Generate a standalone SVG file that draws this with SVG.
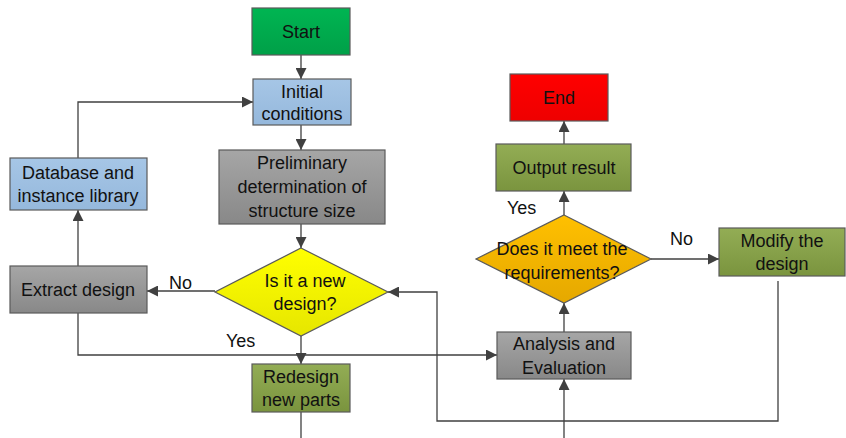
<svg xmlns="http://www.w3.org/2000/svg" width="846" height="438" viewBox="0 0 846 438">
  <style>
    .node text { font-family: "Liberation Sans", Arial, sans-serif; font-size: 18px; fill: #111; text-anchor: middle; }
    .box { stroke: #5a5a5a; stroke-width: 1.2; }
    .edge { fill: none; stroke: #404040; stroke-width: 1.3; }
    .lbl { font-family: "Liberation Sans", Arial, sans-serif; font-size: 18px; fill: #111; }
  </style>
  <defs>
    <linearGradient id="gGreen" x1="0" y1="0" x2="0" y2="1"><stop offset="0" stop-color="#00b552"/><stop offset="1" stop-color="#00a048"/></linearGradient>
    <linearGradient id="gBlue" x1="0" y1="0" x2="0" y2="1"><stop offset="0" stop-color="#a6c6e6"/><stop offset="1" stop-color="#95b8dc"/></linearGradient>
    <linearGradient id="gGray" x1="0" y1="0" x2="0" y2="1"><stop offset="0" stop-color="#a6a6a6"/><stop offset="1" stop-color="#888888"/></linearGradient>
    <linearGradient id="gYellow" x1="0" y1="0" x2="0" y2="1"><stop offset="0" stop-color="#ffff00"/><stop offset="1" stop-color="#e6e600"/></linearGradient>
    <linearGradient id="gOlive" x1="0" y1="0" x2="0" y2="1"><stop offset="0" stop-color="#93ad55"/><stop offset="1" stop-color="#7a943e"/></linearGradient>
    <linearGradient id="gRed" x1="0" y1="0" x2="0" y2="1"><stop offset="0" stop-color="#ff0000"/><stop offset="1" stop-color="#ee0000"/></linearGradient>
    <linearGradient id="gOrange" x1="0" y1="0" x2="0" y2="1"><stop offset="0" stop-color="#ffc000"/><stop offset="1" stop-color="#e5a800"/></linearGradient>
    <marker id="arr" viewBox="0 0 10 10" refX="10" refY="5" markerWidth="11" markerHeight="11" markerUnits="userSpaceOnUse" orient="auto">
      <path d="M0,0 L10,5 L0,10 Z" fill="#404040"/>
    </marker>
  </defs>

  <!-- connectors -->
  <g id="edges">
    <path class="edge" d="M301,55 V79" marker-end="url(#arr)"/>
    <path class="edge" d="M301,125 V150" marker-end="url(#arr)"/>
    <path class="edge" d="M301,224 V248" marker-end="url(#arr)"/>
    <path class="edge" d="M215,291 H147" marker-end="url(#arr)"/>
    <path class="edge" d="M78,266 V210" marker-end="url(#arr)"/>
    <path class="edge" d="M78,158 V102 H253" marker-end="url(#arr)"/>
    <path class="edge" d="M301,336 V364" marker-end="url(#arr)"/>
    <path class="edge" d="M78,313 V355 H497" marker-end="url(#arr)"/>
    <path class="edge" d="M301,412 V438"/>
    <path class="edge" d="M564,438 V379" marker-end="url(#arr)"/>
    <path class="edge" d="M564,332 V303" marker-end="url(#arr)"/>
    <path class="edge" d="M564,215 V191" marker-end="url(#arr)"/>
    <path class="edge" d="M564,144 V121" marker-end="url(#arr)"/>
    <path class="edge" d="M651,259 H719" marker-end="url(#arr)"/>
    <path class="edge" d="M778,281 V421 H437 V292 H388" marker-end="url(#arr)"/>
    <text class="lbl" x="169" y="289">No</text>
    <text class="lbl" x="226" y="347">Yes</text>
    <text class="lbl" x="507" y="214">Yes</text>
    <text class="lbl" x="670" y="245">No</text>
  </g>

  <g id="start" class="node">
    <rect class="box" x="252" y="8" width="98" height="47" fill="url(#gGreen)"/>
    <text x="301" y="38">Start</text>
  </g>
  <g id="initial" class="node">
    <rect class="box" x="253" y="79" width="98" height="46" fill="url(#gBlue)"/>
    <text x="302" y="98">Initial</text>
    <text x="302" y="120">conditions</text>
  </g>
  <g id="preliminary" class="node">
    <rect class="box" x="219" y="150" width="166" height="74" fill="url(#gGray)"/>
    <text x="302" y="169">Preliminary</text>
    <text x="302" y="193">determination of</text>
    <text x="302" y="217">structure size</text>
  </g>
  <g id="new-design" class="node">
    <polygon class="box" points="301,248 388,292 301,336 215,292" fill="url(#gYellow)"/>
    <text x="305" y="287">Is it a new</text>
    <text x="305" y="310">design?</text>
  </g>
  <g id="extract" class="node">
    <rect class="box" x="10" y="266" width="137" height="47" fill="url(#gGray)"/>
    <text x="78" y="296">Extract design</text>
  </g>
  <g id="database" class="node">
    <rect class="box" x="10" y="158" width="137" height="52" fill="url(#gBlue)"/>
    <text x="78" y="179">Database and</text>
    <text x="78" y="202">instance library</text>
  </g>
  <g id="redesign" class="node">
    <rect class="box" x="252" y="364" width="98" height="48" fill="url(#gOlive)"/>
    <text x="301" y="383">Redesign</text>
    <text x="301" y="406">new parts</text>
  </g>
  <g id="analysis" class="node">
    <rect class="box" x="497" y="332" width="134" height="47" fill="url(#gGray)"/>
    <text x="564" y="350">Analysis and</text>
    <text x="564" y="374">Evaluation</text>
  </g>
  <g id="requirements" class="node">
    <polygon class="box" points="564,215 651,259 564,303 476,259" fill="url(#gOrange)"/>
    <text x="562" y="255">Does it meet the</text>
    <text x="562" y="279">requirements?</text>
  </g>
  <g id="output" class="node">
    <rect class="box" x="496" y="144" width="135" height="47" fill="url(#gOlive)"/>
    <text x="564" y="174">Output result</text>
  </g>
  <g id="end" class="node">
    <rect class="box" x="510" y="74" width="98" height="47" fill="url(#gRed)"/>
    <text x="559" y="104">End</text>
  </g>
  <g id="modify" class="node">
    <rect class="box" x="719" y="228" width="126" height="48" fill="url(#gOlive)"/>
    <text x="782" y="247">Modify the</text>
    <text x="782" y="270">design</text>
  </g>
</svg>
